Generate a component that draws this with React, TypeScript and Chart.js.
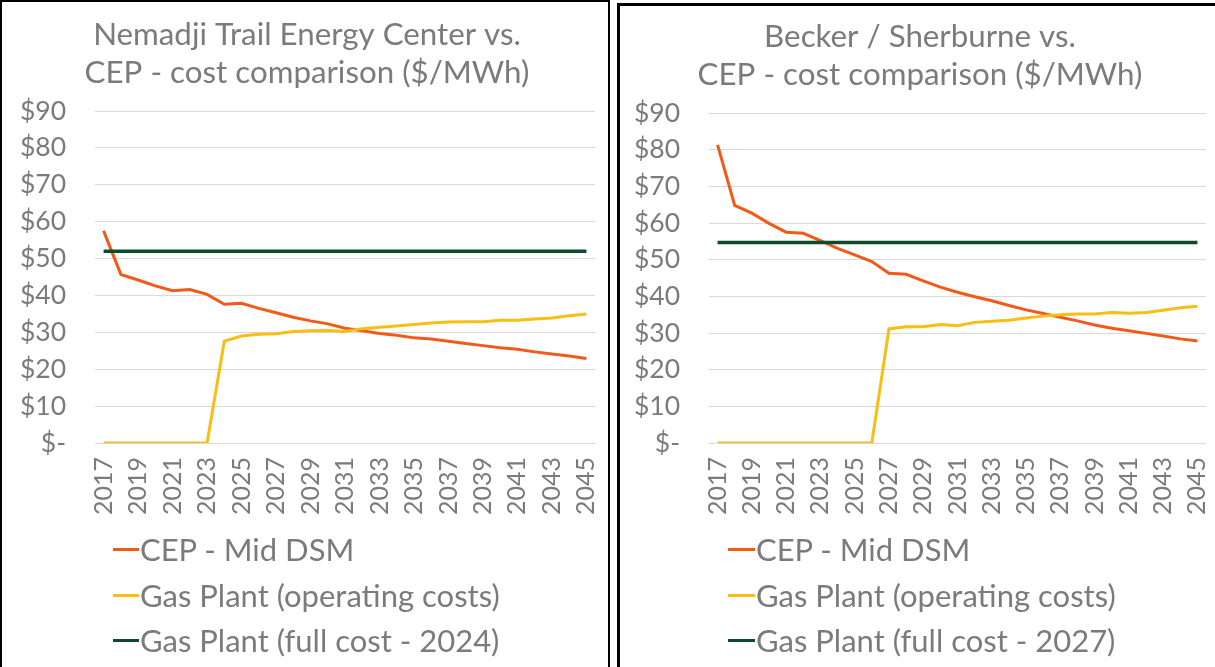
import React, { useEffect, useRef } from 'react';
import { Chart, registerables } from 'chart.js';

Chart.register(...registerables);

const years = [
  '2017', '2018', '2019', '2020', '2021', '2022', '2023', '2024', '2025', '2026',
  '2027', '2028', '2029', '2030', '2031', '2032', '2033', '2034', '2035', '2036',
  '2037', '2038', '2039', '2040', '2041', '2042', '2043', '2044', '2045',
];

const yTickValues = [0, 10, 20, 30, 40, 50, 60, 70, 80, 90];

const nemadjiTitle = ['Nemadji Trail Energy Center vs.', 'CEP - cost comparison ($/MWh)'];
const nemadjiCep = [
  57.5, 45.7, 44.2, 42.6, 41.3, 41.6, 40.3, 37.6, 37.9, 36.5,
  35.3, 34.1, 33.1, 32.3, 31.1, 30.4, 29.7, 29.2, 28.5, 28.2,
  27.6, 27.0, 26.4, 25.8, 25.4, 24.7, 24.1, 23.6, 22.9,
];
const nemadjiGasOp = [
  0, 0, 0, 0, 0, 0, 0, 27.6, 29.0, 29.5,
  29.6, 30.2, 30.4, 30.5, 30.2, 31.0, 31.4, 31.7, 32.1, 32.5,
  32.8, 32.9, 32.9, 33.3, 33.3, 33.6, 33.9, 34.5, 35.0,
];
const nemadjiGasFull = [
  52, 52, 52, 52, 52, 52, 52, 52, 52, 52,
  52, 52, 52, 52, 52, 52, 52, 52, 52, 52,
  52, 52, 52, 52, 52, 52, 52, 52, 52,
];

const beckerTitle = ['Becker / Sherburne vs.', 'CEP - cost comparison ($/MWh)'];
const beckerCep = [
  81.3, 64.8, 62.7, 59.9, 57.5, 57.2, 55.2, 53.1, 51.3, 49.5,
  46.3, 46.0, 44.2, 42.5, 41.1, 39.9, 38.8, 37.5, 36.3, 35.3,
  34.3, 33.3, 32.2, 31.3, 30.6, 29.9, 29.2, 28.4, 27.8,
];
const beckerGasOp = [
  0, 0, 0, 0, 0, 0, 0, 0, 0, 0,
  31.1, 31.7, 31.7, 32.3, 32.0, 32.9, 33.2, 33.5, 34.1, 34.6,
  35.0, 35.2, 35.2, 35.6, 35.4, 35.6, 36.2, 36.9, 37.3,
];
const beckerGasFull = [
  54.7, 54.7, 54.7, 54.7, 54.7, 54.7, 54.7, 54.7, 54.7, 54.7,
  54.7, 54.7, 54.7, 54.7, 54.7, 54.7, 54.7, 54.7, 54.7, 54.7,
  54.7, 54.7, 54.7, 54.7, 54.7, 54.7, 54.7, 54.7, 54.7,
];

const seriesNames = ['CEP - Mid DSM', 'Gas Plant (operating costs)'];
const nemadjiFullName = 'Gas Plant (full cost - 2024)';
const beckerFullName = 'Gas Plant (full cost - 2027)';

const GREY = '#7b7b7b';
const ORANGE = '#F25A18';
const YELLOW = '#F8BE14';
const GREEN = '#0D4B2B';
const FONT = 'Lato';

type PanelProps = {
  title: string[];
  cep: number[];
  gasOp: number[];
  gasFull: number[];
  fullName: string;
  left: number;
  top: number;
  width: number;
  height: number;
  yWidth: number;
  padLeft: number;
  padRight: number;
  titleTop: number;
  titleBottom: number;
  legendX: number;
  legendLine: number;
};

function Panel(p: PanelProps) {
  const ref = useRef<HTMLCanvasElement>(null);
  useEffect(() => {
    let chart: Chart | null = null;
    let cancelled = false;
    const make = () => {
      if (cancelled || !ref.current) return;
      chart = new Chart(ref.current, {
        type: 'line',
        data: {
          labels: years,
          datasets: [
            { label: seriesNames[0], data: p.cep, borderColor: ORANGE, backgroundColor: ORANGE, borderWidth: 3, pointRadius: 0, tension: 0, order: 2 },
            { label: seriesNames[1], data: p.gasOp, borderColor: YELLOW, backgroundColor: YELLOW, borderWidth: 3, pointRadius: 0, tension: 0, order: 1 },
            { label: p.fullName, data: p.gasFull, borderColor: GREEN, backgroundColor: GREEN, borderWidth: 3.5, pointRadius: 0, tension: 0, order: 0 },
          ],
        },
        options: {
          responsive: false,
          animation: false,
          events: [],
          layout: { padding: { left: p.padLeft, right: p.padRight, top: 0, bottom: 0 } },
          plugins: {
            legend: { display: false },
            tooltip: { enabled: false },
            title: {
              display: true,
              text: p.title,
              color: GREY,
              font: { family: FONT, size: 31.3, weight: 'normal', lineHeight: '38px' },
              padding: { top: p.titleTop, bottom: p.titleBottom },
            },
          },
          scales: {
            x: {
              offset: true,
              grid: { display: false, drawTicks: false },
              border: { display: false },
              ticks: {
                autoSkip: false,
                maxRotation: 90,
                minRotation: 90,
                padding: 14,
                color: GREY,
                font: { family: FONT, size: 25 },
                callback: (_v: any, i: number) => (i % 2 === 0 ? years[i] : ''),
              },
              afterFit: (s: any) => {
                s.height = 90;
                s.paddingLeft = 0;
                s.paddingRight = 0;
              },
            },
            y: {
              min: 0,
              max: 90,
              afterBuildTicks: (s: any) => { s.ticks = yTickValues.map((v) => ({ value: v })); },
              ticks: {
                padding: 29,
                color: GREY,
                font: { family: FONT, size: 26.5 },
                callback: (v: any) => (Number(v) === 0 ? '$-' : '$' + v),
              },
              grid: { color: '#d9d9d9', lineWidth: 1, drawTicks: false },
              border: { display: false },
              afterFit: (s: any) => { s.width = p.yWidth; },
            },
          },
        },
      } as any);
    };
    if ((document as any).fonts && (document as any).fonts.load) {
      (document as any).fonts.load('25px Lato').then(make, make);
    } else {
      make();
    }
    return () => {
      cancelled = true;
      if (chart) chart.destroy();
    };
  }, []);

  const names = [seriesNames[0], seriesNames[1], p.fullName];
  const colors = [ORANGE, YELLOW, GREEN];
  const rowY = [549, 595, 640];

  return (
    <>
      <canvas
        ref={ref}
        width={p.width}
        height={p.height}
        style={{ position: 'absolute', left: p.left, top: p.top, width: p.width, height: p.height, display: 'block' }}
      />
      {names.map((n, i) => (
        <div
          key={n}
          style={{
            position: 'absolute',
            left: p.legendX,
            top: rowY[i] - 19,
            height: 38,
            display: 'flex',
            alignItems: 'center',
            whiteSpace: 'nowrap',
          }}
        >
          <span style={{ display: 'inline-block', width: p.legendLine, height: 3, background: colors[i] }} />
          <span style={{ marginLeft: 1, fontFamily: FONT, fontSize: 31, lineHeight: '38px', color: GREY }}>{n}</span>
        </div>
      ))}
    </>
  );
}

export default function App() {
  return (
    <div style={{ position: 'fixed', left: 0, top: 0, width: 1215, height: 667, background: '#fff', overflow: 'hidden' }}>
      <div
        style={{
          position: 'absolute', left: 0, top: 0, width: 606, height: 700,
          borderLeft: '2px solid #000', borderTop: '2px solid #000', borderRight: '2px solid #000',
        }}
      />
      <div
        style={{
          position: 'absolute', left: 617, top: 3, width: 640, height: 700,
          borderLeft: '3px solid #000', borderTop: '3px solid #000',
        }}
      />
      <Panel
        title={nemadjiTitle}
        cep={nemadjiCep}
        gasOp={nemadjiGasOp}
        gasFull={nemadjiGasFull}
        fullName={nemadjiFullName}
        left={2}
        top={2}
        width={605}
        height={531}
        yWidth={76}
        padLeft={17}
        padRight={12}
        titleTop={14}
        titleBottom={19}
        legendX={113}
        legendLine={26}
      />
      <Panel
        title={beckerTitle}
        cep={beckerCep}
        gasOp={beckerGasOp}
        gasFull={beckerGasFull}
        fullName={beckerFullName}
        left={620}
        top={6}
        width={595}
        height={527}
        yWidth={75}
        padLeft={14}
        padRight={9}
        titleTop={12}
        titleBottom={19}
        legendX={728}
        legendLine={27}
      />
    </div>
  );
}
